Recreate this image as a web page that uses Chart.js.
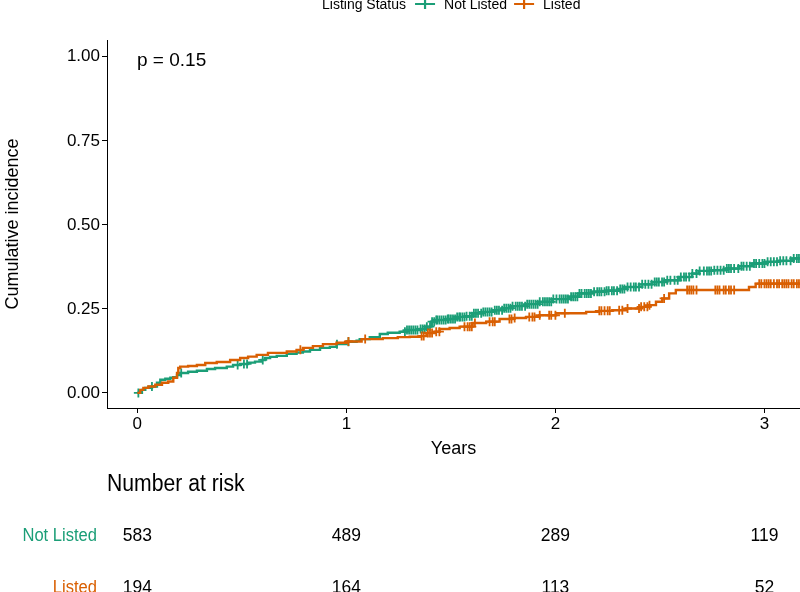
<!DOCTYPE html>
<html>
<head>
<meta charset="utf-8">
<script src="https://cdn.jsdelivr.net/npm/chart.js@4.4.1/dist/chart.umd.min.js"></script>
<style>
html,body{margin:0;padding:0;background:#ffffff;}
#wrap{width:800px;height:592px;position:relative;overflow:hidden;}
</style>
</head>
<body>
<div id="wrap"><canvas id="c" width="800" height="592"></canvas></div>
<script>
// ---------------- data ----------------
const xTicks = [0, 1, 2, 3];
const yTicks = [0, 0.25, 0.5, 0.75, 1];
const legendTitle = 'Listing Status';
const groupNames = ['Not Listed', 'Listed'];
const pValueText = 'p = 0.15';
const xTitle = 'Years';
const yTitle = 'Cumulative incidence';
const riskTitle = 'Number at risk';
const riskTimes = [0, 1, 2, 3];
const riskNotListed = [583, 489, 289, 119];
const riskListed = [194, 164, 113, 52];

const notListedTime = [0, 0.022, 0.038, 0.07, 0.094, 0.11, 0.134, 0.158, 0.172, 0.19, 0.205, 0.243, 0.285, 0.333, 0.372, 0.428, 0.458, 0.492, 0.53, 0.563, 0.595, 0.611, 0.635, 0.667, 0.715, 0.762, 0.792, 0.826, 0.874, 0.921, 0.953, 1.001, 1.049, 1.064, 1.112, 1.16, 1.198, 1.255, 1.287, 1.351, 1.383, 1.407, 1.43, 1.478, 1.526, 1.574, 1.604, 1.652, 1.699, 1.747, 1.795, 1.86, 1.924, 1.986, 2.067, 2.115, 2.177, 2.242, 2.305, 2.337, 2.401, 2.463, 2.528, 2.592, 2.654, 2.687, 2.749, 2.815, 2.878, 2.94, 3.006, 3.069, 3.131, 3.17];
const notListedCI = [0, 0.009, 0.015, 0.019, 0.03, 0.039, 0.042, 0.045, 0.047, 0.053, 0.059, 0.063, 0.066, 0.071, 0.074, 0.078, 0.083, 0.086, 0.09, 0.093, 0.098, 0.104, 0.107, 0.11, 0.116, 0.12, 0.123, 0.128, 0.134, 0.137, 0.145, 0.152, 0.155, 0.16, 0.166, 0.175, 0.179, 0.182, 0.187, 0.19, 0.197, 0.212, 0.217, 0.22, 0.226, 0.228, 0.237, 0.241, 0.246, 0.252, 0.258, 0.264, 0.271, 0.279, 0.286, 0.296, 0.301, 0.304, 0.309, 0.315, 0.323, 0.33, 0.335, 0.345, 0.355, 0.363, 0.365, 0.37, 0.377, 0.385, 0.39, 0.393, 0.40, 0.40];

const listedTime = [0, 0.014, 0.029, 0.053, 0.086, 0.118, 0.148, 0.172, 0.19, 0.196, 0.205, 0.243, 0.285, 0.325, 0.38, 0.444, 0.492, 0.53, 0.571, 0.625, 0.715, 0.762, 0.792, 0.84, 0.888, 0.953, 1.001, 1.073, 1.174, 1.246, 1.303, 1.351, 1.383, 1.422, 1.446, 1.494, 1.542, 1.604, 1.669, 1.733, 1.795, 1.86, 1.924, 2.003, 2.147, 2.21, 2.272, 2.337, 2.401, 2.449, 2.481, 2.511, 2.544, 2.576, 2.926, 2.958, 3.17];
const listedCI = [0, 0.009, 0.015, 0.019, 0.024, 0.03, 0.034, 0.045, 0.059, 0.074, 0.078, 0.08, 0.083, 0.089, 0.092, 0.098, 0.104, 0.108, 0.113, 0.119, 0.123, 0.128, 0.134, 0.139, 0.145, 0.149, 0.153, 0.16, 0.163, 0.166, 0.167, 0.169, 0.178, 0.182, 0.19, 0.193, 0.197, 0.208, 0.212, 0.22, 0.223, 0.226, 0.231, 0.237, 0.241, 0.244, 0.246, 0.251, 0.256, 0.261, 0.271, 0.281, 0.296, 0.306, 0.315, 0.325, 0.325];

const notListedCensor = [0.005, 0.07, 0.21, 0.48, 0.51, 0.525, 0.60, 0.955, 1.01, 1.28, 1.29, 1.30, 1.31, 1.32, 1.33, 1.34, 1.355, 1.365, 1.375, 1.385, 1.40, 1.41, 1.42, 1.43, 1.435, 1.445, 1.455, 1.465, 1.475, 1.485, 1.49, 1.50, 1.51, 1.52, 1.53, 1.54, 1.545, 1.555, 1.565, 1.575, 1.59, 1.60, 1.61, 1.62, 1.63, 1.645, 1.655, 1.665, 1.675, 1.685, 1.695, 1.71, 1.72, 1.73, 1.745, 1.755, 1.765, 1.775, 1.785, 1.795, 1.81, 1.82, 1.83, 1.84, 1.855, 1.865, 1.875, 1.885, 1.895, 1.905, 1.915, 1.925, 1.94, 1.95, 1.96, 1.97, 1.98, 1.99, 2.005, 2.02, 2.03, 2.04, 2.05, 2.06, 2.075, 2.085, 2.095, 2.105, 2.115, 2.125, 2.14, 2.15, 2.16, 2.17, 2.185, 2.2, 2.21, 2.22, 2.235, 2.245, 2.255, 2.27, 2.28, 2.295, 2.31, 2.32, 2.33, 2.345, 2.36, 2.375, 2.385, 2.40, 2.415, 2.43, 2.445, 2.46, 2.475, 2.485, 2.495, 2.51, 2.52, 2.535, 2.55, 2.57, 2.585, 2.6, 2.615, 2.625, 2.64, 2.655, 2.675, 2.69, 2.71, 2.725, 2.735, 2.745, 2.76, 2.775, 2.79, 2.805, 2.82, 2.83, 2.84, 2.855, 2.875, 2.89, 2.9, 2.915, 2.93, 2.95, 2.96, 2.975, 2.99, 3.0, 3.015, 3.03, 3.045, 3.06, 3.075, 3.09, 3.105, 3.125, 3.14, 3.155, 3.165];
const listedCensor = [0.78, 1.01, 1.09, 1.36, 1.37, 1.39, 1.40, 1.41, 1.43, 1.445, 1.565, 1.58, 1.59, 1.60, 1.615, 1.685, 1.70, 1.71, 1.78, 1.79, 1.805, 1.875, 1.89, 1.90, 1.925, 1.97, 1.98, 2.0, 2.045, 2.21, 2.22, 2.235, 2.25, 2.26, 2.305, 2.32, 2.345, 2.40, 2.41, 2.425, 2.44, 2.45, 2.52, 2.63, 2.64, 2.65, 2.66, 2.675, 2.765, 2.775, 2.785, 2.805, 2.815, 2.83, 2.84, 2.855, 2.975, 2.985, 3.0, 3.01, 3.02, 3.03, 3.045, 3.06, 3.07, 3.085, 3.095, 3.105, 3.115, 3.13, 3.14, 3.155, 3.165];

// ---------------- styles ----------------
const GREEN = '#1B9E77';
const ORANGE = '#D95F02';
const FONT = '"Liberation Sans", Arial, Helvetica, sans-serif';

function stepValue(times, vals, t) {
  let v = vals[0];
  for (let i = 0; i < times.length; i++) { if (times[i] <= t) v = vals[i]; else break; }
  return v;
}
function curvePoints(times, vals) { return times.map((t, i) => ({x: t, y: vals[i]})); }
function censorPoints(ct, times, vals) { return ct.map(t => ({x: t, y: stepValue(times, vals, t)})); }

function sText(ctx, txt, x, y, sx, align) {
  ctx.save();
  let w = ctx.measureText(txt).width * sx;
  let x0 = x;
  if (align === 'right') x0 = x - w;
  else if (align === 'center') x0 = x - w / 2;
  ctx.translate(x0, y);
  ctx.scale(sx, 1);
  ctx.textAlign = 'left';
  ctx.fillText(txt, 0, 0);
  ctx.restore();
}

const overlay = {
  id: 'overlay',
  afterDraw(chart) {
    const ctx = chart.ctx;
    const xs = chart.scales.x;
    ctx.save();
    ctx.textBaseline = 'alphabetic';
    // p-value
    ctx.fillStyle = '#000';
    ctx.font = '19px ' + FONT;
    ctx.textAlign = 'left';
    ctx.fillText(pValueText, 137, 66);

    // legend
    ctx.font = '14px ' + FONT;
    let x = 322;
    const by = 9, ly = 4;
    ctx.fillStyle = '#000';
    ctx.fillText(legendTitle, x, by);
    x += ctx.measureText(legendTitle).width + 9;
    const cols = [GREEN, ORANGE];
    for (let i = 0; i < groupNames.length; i++) {
      ctx.strokeStyle = cols[i];
      ctx.lineWidth = 2.2;
      ctx.beginPath();
      ctx.moveTo(x, ly); ctx.lineTo(x + 20, ly);
      ctx.moveTo(x + 10, ly - 5); ctx.lineTo(x + 10, ly + 5);
      ctx.stroke();
      x += 20 + 9;
      ctx.fillStyle = '#000';
      ctx.fillText(groupNames[i], x, by);
      x += ctx.measureText(groupNames[i]).width + 7;
    }

    // risk table
    const SX = 0.92;
    ctx.fillStyle = '#000';
    ctx.font = '23px ' + FONT;
    sText(ctx, riskTitle, 107, 491, SX, 'left');
    ctx.font = '18px ' + FONT;
    ctx.fillStyle = GREEN;
    sText(ctx, groupNames[0], 97, 541, SX, 'right');
    ctx.fillStyle = ORANGE;
    sText(ctx, groupNames[1], 97, 593, SX, 'right');
    ctx.font = '19px ' + FONT;
    ctx.fillStyle = '#000';
    for (let i = 0; i < riskTimes.length; i++) {
      const px = xs.getPixelForValue(riskTimes[i]);
      sText(ctx, String(riskNotListed[i]), px, 541, SX, 'center');
      sText(ctx, String(riskListed[i]), px, 593, SX, 'center');
    }
    ctx.restore();
  }
};

const ctx = document.getElementById('c').getContext('2d');
new Chart(ctx, {
  type: 'line',
  data: {
    datasets: [
      {label: groupNames[1], data: curvePoints(listedTime, listedCI), borderColor: ORANGE, borderWidth: 2.4, stepped: true, pointRadius: 0, fill: false, order: 0},
      {label: groupNames[1] + ' censor', data: censorPoints(listedCensor, listedTime, listedCI), showLine: false, pointStyle: 'cross', pointRadius: 4.5, pointBorderColor: ORANGE, pointBorderWidth: 1.8, pointBackgroundColor: ORANGE, order: 0},
      {label: groupNames[0], data: curvePoints(notListedTime, notListedCI), borderColor: GREEN, borderWidth: 2.4, stepped: true, pointRadius: 0, fill: false, order: 1},
      {label: groupNames[0] + ' censor', data: censorPoints(notListedCensor, notListedTime, notListedCI), showLine: false, pointStyle: 'cross', pointRadius: 4.5, pointBorderColor: GREEN, pointBorderWidth: 1.8, pointBackgroundColor: GREEN, order: 1}
    ]
  },
  options: {
    responsive: false,
    animation: false,
    devicePixelRatio: 1,
    layout: {autoPadding: false, padding: {top: 40, right: 0, bottom: 132, left: 0}},
    plugins: {legend: {display: false}, tooltip: {enabled: false}},
    scales: {
      x: {
        type: 'linear', min: -0.145, max: 3.17,
        afterBuildTicks: s => { s.ticks = xTicks.map(v => ({value: v})); },
        afterFit: s => { s.height = 52; },
        grid: {display: true, drawOnChartArea: false, drawTicks: true, tickLength: 5, color: '#000', lineWidth: 1},
        border: {display: true, color: '#000', width: 1},
        ticks: {color: '#000', font: {family: FONT, size: 17}, padding: 1, maxRotation: 0, callback: v => String(v)},
        title: {display: true, text: xTitle, color: '#000', font: {family: FONT, size: 18}, padding: {top: 0, bottom: 0}}
      },
      y: {
        type: 'linear', min: -0.045, max: 1.05,
        afterBuildTicks: s => { s.ticks = yTicks.map(v => ({value: v})); },
        afterFit: s => { s.width = 107; },
        grid: {display: true, drawOnChartArea: false, drawTicks: true, tickLength: 5, color: '#000', lineWidth: 1},
        border: {display: true, color: '#000', width: 1},
        ticks: {color: '#000', font: {family: FONT, size: 17}, padding: 2, callback: v => v.toFixed(2)},
        title: {display: true, text: yTitle, color: '#000', font: {family: FONT, size: 18}, padding: {top: 2, bottom: 0}}
      }
    }
  },
  plugins: [overlay]
});
</script>
</body>
</html>
